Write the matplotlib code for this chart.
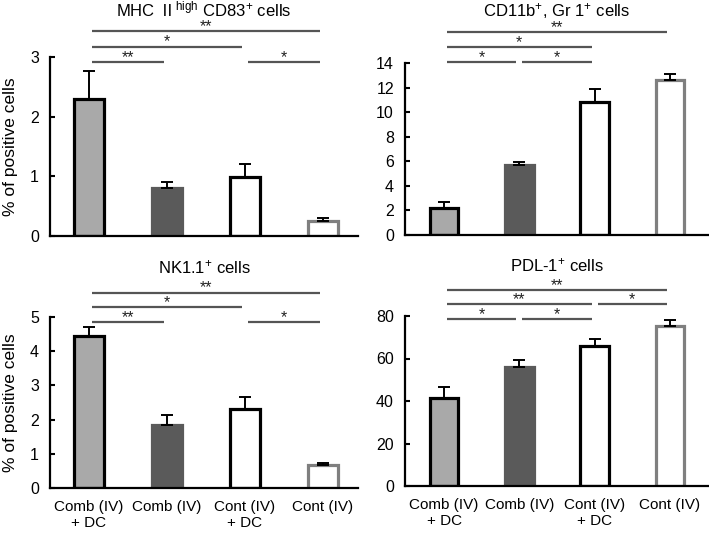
import matplotlib
matplotlib.use("Agg")
import matplotlib.pyplot as plt
import matplotlib.transforms as mtransforms

plt.rcParams['font.family'] = ['Liberation Sans', 'DejaVu Sans']
plt.rcParams['mathtext.fontset'] = 'custom'
plt.rcParams['mathtext.rm'] = 'Noto Sans CJK JP'
plt.rcParams['mathtext.sf'] = 'Liberation Sans'
plt.rcParams['mathtext.it'] = 'Liberation Sans:italic'
plt.rcParams['mathtext.bf'] = 'Liberation Sans:bold'

# ---------------- data ----------------
groups = ["Comb (IV)\n+ DC", "Comb (IV)", "Cont (IV)\n+ DC", "Cont (IV)"]

mhc_mean = [2.29, 0.81, 0.99, 0.25]
mhc_err = [0.48, 0.10, 0.21, 0.05]

cd11b_mean = [2.2, 5.7, 10.85, 12.65]
cd11b_err = [0.5, 0.25, 1.05, 0.45]

nk_mean = [4.43, 1.84, 2.31, 0.66]
nk_err = [0.29, 0.29, 0.34, 0.07]

pdl_mean = [41.5, 55.9, 65.8, 75.3]
pdl_err = [5.1, 3.5, 3.3, 3.0]

# significance comparisons: (group i, group j, label, row)
mhc_sig = [(0, 1, '**', 0), (2, 3, '*', 0), (0, 2, '*', 1), (0, 3, '**', 2)]
cd11b_sig = [(0, 1, '*', 0), (1, 2, '*', 0), (0, 2, '*', 1), (0, 3, '**', 2)]
nk_sig = [(0, 1, '**', 0), (2, 3, '*', 0), (0, 2, '*', 1), (0, 3, '**', 2)]
pdl_sig = [(0, 1, '*', 0), (1, 2, '*', 0), (0, 2, '**', 1), (2, 3, '*', 1), (0, 3, '**', 2)]

titles = ["MHC $\\mathrm{Ⅱ}^{\\mathsf{high}}$ CD83$^{\\mathsf{+}}$ cells",
          "CD11b$^{\\mathsf{+}}$, Gr 1$^{\\mathsf{+}}$ cells",
          "NK1.1$^{\\mathsf{+}}$ cells",
          "PDL-1$^{\\mathsf{+}}$ cells"]

ylabel = "% of positive cells"

# ---------------- style ----------------
fills = ['#a9a9a9', '#5a5a5a', 'white', 'white']
edges = ['black', '#5a5a5a', 'black', '#7f7f7f']

W, H = 709, 533
fig = plt.figure(figsize=(W / 100, H / 100), dpi=100)


def px_axes(l, r, top, bottom):
    return fig.add_axes([l / W, (H - bottom) / H, (r - l) / W, (bottom - top) / H])


panels = [
    dict(rect=(50, 358, 57, 236), mean=mhc_mean, err=mhc_err, sig=mhc_sig,
         ylim=(0, 3), yticks=[0, 1, 2, 3], xlim=(-0.5, 3.45), base=0.972,
         title_y=1.228, ylabel=True, xlabels=False),
    dict(rect=(405, 709, 63, 235), mean=cd11b_mean, err=cd11b_err, sig=cd11b_sig,
         ylim=(0, 14), yticks=list(range(0, 15, 2)), xlim=(-0.52, 3.52), base=1.006,
         title_y=1.272, ylabel=False, xlabels=False),
    dict(rect=(50, 358, 317, 488), mean=nk_mean, err=nk_err, sig=nk_sig,
         ylim=(0, 5), yticks=[0, 1, 2, 3, 4, 5], xlim=(-0.5, 3.45), base=0.971,
         title_y=1.257, ylabel=True, xlabels=True),
    dict(rect=(405, 709, 316, 486), mean=pdl_mean, err=pdl_err, sig=pdl_sig,
         ylim=(0, 80), yticks=[0, 20, 40, 60, 80], xlim=(-0.52, 3.52), base=0.982,
         title_y=1.265, ylabel=False, xlabels=True),
]

x = list(range(len(groups)))

for p, title in zip(panels, titles):
    ax = px_axes(*p['rect'])
    ax.bar(x, p['mean'], width=0.38, color=fills, edgecolor=edges, linewidth=2.3, zorder=2)
    ax.errorbar(x, p['mean'], yerr=[[0] * 4, p['err']], fmt='none', ecolor='black',
                elinewidth=1.4, capsize=4, capthick=1.4, zorder=3)
    ax.set_xlim(*p['xlim'])
    ax.set_ylim(*p['ylim'])
    ax.set_yticks(p['yticks'])
    ax.tick_params(axis='y', direction='in', length=3.5, width=1.5, pad=8, labelsize=11.5)
    ax.set_xticks(x)
    if p['xlabels']:
        ax.set_xticklabels(groups, fontsize=11, linespacing=1.15)
    else:
        ax.set_xticklabels([])
    ax.tick_params(axis='x', length=0, pad=9)
    for s in ['top', 'right']:
        ax.spines[s].set_visible(False)
    for s in ['left', 'bottom']:
        ax.spines[s].set_linewidth(1.6)
        ax.spines[s].set_color('black')
    if p['ylabel']:
        ax.set_ylabel(ylabel, fontsize=12.5)
        ax.yaxis.set_label_coords(-0.104, 0.5)
    ax.text(0.5, p['title_y'], title, transform=ax.transAxes, ha='center',
            va='baseline', fontsize=12)
    trans = mtransforms.blended_transform_factory(ax.transData, ax.transAxes)
    for (i, j, lab, row) in p['sig']:
        y = p['base'] + 0.086 * row
        x0, x1 = i + 0.04, j - 0.04
        ax.plot([x0, x1], [y, y], transform=trans, color='#555555', lw=1.6,
                clip_on=False, solid_capstyle='butt')
        ax.text((x0 + x1) / 2, y, lab, transform=trans, ha='center',
                va='baseline', fontsize=11.5, color='#222222')

fig.savefig("out.png", dpi=100)
